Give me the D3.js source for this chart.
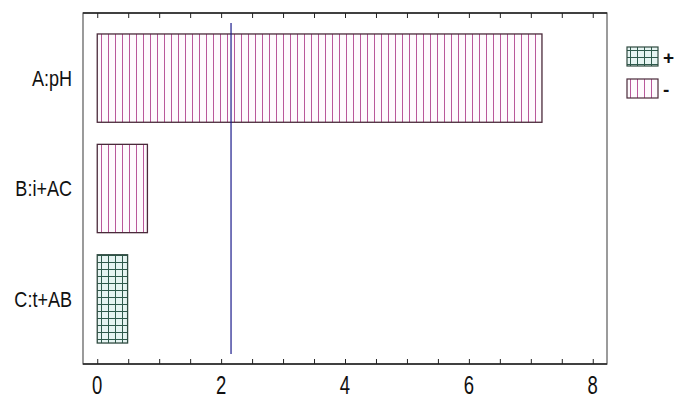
<!DOCTYPE html>
<html lang="en">
<head>
  <meta charset="UTF-8" />
  <title>D3 - pareto chart</title>
  <script src="https://d3js.org/d3.v7.min.js" charset="utf-8"></script>
  <style type="text/css">
  body {
    margin: 0;
    background: #fff;
  }
  svg {
    display: block;
    font-family: "Liberation Sans", Arial, sans-serif;
  }
  .frame {
    fill: none;
    stroke: #666;
    stroke-width: 1.3;
  }
  .axis path,
  .axis line {
    fill: none;
    stroke: #222;
  }
  </style>
</head>
<body>
<script type="text/javascript">

// effects, standardized effect size and sign
var effects = ["A:pH", "B:i+AC", "C:t+AB"];
var values = [7.18, 0.81, 0.49];
var signs = ["-", "-", "+"];
var xTicks = [0, 2, 4, 6, 8];
var refLine = 2.16;
var legendKeys = ["+", "-"];

var width = 676, height = 400;
var m = {top: 13, right: 69, bottom: 36, left: 83};

var svg = d3.select("body").append("svg")
    .attr("width", width)
    .attr("height", height);

// patterns
var defs = svg.append("defs");
var neg = defs.append("pattern")
    .attr("id", "pat-neg")
    .attr("patternUnits", "userSpaceOnUse")
    .attr("width", 7).attr("height", 7);
neg.append("rect").attr("width", 7).attr("height", 7).attr("fill", "#fefafd");
neg.append("line")
    .attr("x1", 3.5).attr("x2", 3.5).attr("y1", 0).attr("y2", 7)
    .attr("stroke", "#b9579a").attr("stroke-width", 1);

var pos = defs.append("pattern")
    .attr("id", "pat-pos")
    .attr("patternUnits", "userSpaceOnUse")
    .attr("width", 7).attr("height", 7);
pos.append("rect").attr("width", 7).attr("height", 7).attr("fill", "#e6f4f2");
pos.append("path")
    .attr("d", "M3.5,0V7M0,3.5H7")
    .attr("stroke", "#2f5a4c").attr("stroke-width", 1).attr("fill", "none");

var x = d3.scaleLinear()
    .domain([-0.23, 8.23])
    .range([m.left, width - m.right]);

var y = d3.scaleBand()
    .domain(effects)
    .range([m.top, height - m.bottom])
    .paddingInner(0.2)
    .paddingOuter(0.19);

// frame
svg.append("rect")
    .attr("class", "frame")
    .attr("x", m.left)
    .attr("y", m.top)
    .attr("width", width - m.right - m.left)
    .attr("height", height - m.bottom - m.top);

var minor = d3.range(0, 8.01, 0.5);

// bottom axis (ticks point inward)
svg.append("g")
    .attr("class", "axis")
    .attr("transform", "translate(0," + (height - m.bottom) + ")")
    .call(d3.axisBottom(x).tickValues(minor).tickSize(-5).tickSizeOuter(0).tickFormat(""))
    .call(function(g) { g.select(".domain").attr("stroke", "#222").attr("stroke-width", 1.5).attr("d", "M" + m.left + ",0H" + (width - m.right)); });

svg.append("g")
    .attr("transform", "translate(0," + (height - m.bottom) + ")")
    .selectAll("text")
    .data(xTicks)
    .enter().append("text")
      .attr("transform", function(d) { return "translate(" + x(d) + ",30) scale(0.74,1)"; })
      .attr("text-anchor", "middle")
      .attr("font-size", 25)
      .attr("fill", "#111")
      .text(function(d) { return d; });

// top axis
svg.append("g")
    .attr("class", "axis")
    .attr("transform", "translate(0," + m.top + ")")
    .call(d3.axisTop(x).tickValues(minor).tickSize(-5).tickSizeOuter(0).tickFormat(""))
    .call(function(g) { g.select(".domain").attr("stroke", "#333").attr("stroke-width", 1.5).attr("d", "M" + m.left + ",0H" + (width - m.right)); });

// bars
svg.append("g")
  .selectAll("rect")
  .data(effects)
  .enter().append("rect")
    .attr("x", x(0))
    .attr("y", function(d) { return y(d); })
    .attr("width", function(d, i) { return x(values[i]) - x(0); })
    .attr("height", y.bandwidth())
    .attr("fill", function(d, i) { return signs[i] === "+" ? "url(#pat-pos)" : "url(#pat-neg)"; })
    .attr("stroke", function(d, i) { return signs[i] === "+" ? "#2f4a40" : "#4a2a3a"; })
    .attr("stroke-width", 1.3);

// category labels
svg.append("g")
  .selectAll("text")
  .data(effects)
  .enter().append("text")
    .attr("transform", function(d) { return "translate(" + (m.left - 11) + "," + (y(d) + y.bandwidth() / 2) + ") scale(0.82,1)"; })
    .attr("dy", "0.35em")
    .attr("text-anchor", "end")
    .attr("font-size", 22)
    .attr("fill", "#111")
    .text(function(d) { return d; });

// reference line
svg.append("line")
    .attr("x1", x(refLine)).attr("x2", x(refLine))
    .attr("y1", y.range()[0] + 10)
    .attr("y2", y.range()[1] - 10)
    .attr("stroke", "#1c1c8c")
    .attr("stroke-width", 1.2);

// legend
var lg = svg.append("g")
  .selectAll("g")
  .data(legendKeys)
  .enter().append("g")
    .attr("transform", function(d, i) { return "translate(627," + (47 + i * 32) + ")"; });

lg.append("rect")
    .attr("width", 31)
    .attr("height", 19)
    .attr("fill", function(d) { return d === "+" ? "url(#pat-pos)" : "url(#pat-neg)"; })
    .attr("stroke", function(d) { return d === "+" ? "#2f4a40" : "#4a2a3a"; })
    .attr("stroke-width", 1.2);

lg.append("text")
    .attr("x", 36)
    .attr("y", 10)
    .attr("dy", "0.35em")
    .attr("font-size", 19)
    .attr("font-weight", "bold")
    .attr("fill", "#111")
    .text(function(d) { return d; });

</script>
</body>
</html>
